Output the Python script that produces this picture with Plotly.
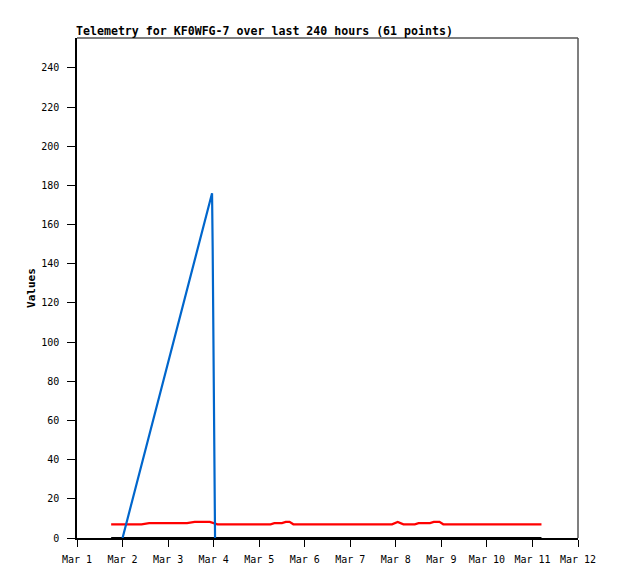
"""
Telemetry chart for KF0WFG-7, last 240 hours.
"""
import pandas as pd
import plotly.graph_objects as go

MONO = "DejaVu Sans Mono, Liberation Mono, monospace"

COLOR_BLUE = "#0066cc"
COLOR_RED = "#ff0000"
COLOR_BLACK = "#000000"
COLOR_FRAME = "#555555"

# series values (only points where the value changes)
red_times = [
    "2024-03-01 18:00", "2024-03-02 10:00", "2024-03-02 14:00", "2024-03-03 10:00",
    "2024-03-03 14:00", "2024-03-03 22:00", "2024-03-04 02:00", "2024-03-05 06:00",
    "2024-03-05 08:00", "2024-03-05 12:00", "2024-03-05 14:00", "2024-03-05 16:00",
    "2024-03-05 18:00", "2024-03-07 22:00", "2024-03-08 01:00", "2024-03-08 04:00",
    "2024-03-08 10:00", "2024-03-08 12:00", "2024-03-08 18:00", "2024-03-08 20:00",
    "2024-03-08 23:00", "2024-03-09 01:00", "2024-03-11 04:45",
]
red_values = [
    7.0, 7.0, 7.6, 7.6,
    8.2, 8.2, 7.0, 7.0,
    7.6, 7.6, 8.2, 8.2,
    7.0, 7.0, 8.2, 7.0,
    7.0, 7.6, 7.6, 8.2,
    8.2, 7.0, 7.0,
]

blue_times = [
    "2024-03-02 00:00", "2024-03-03 23:10", "2024-03-03 23:30",
    "2024-03-03 23:55", "2024-03-04 00:20", "2024-03-04 00:45",
]
blue_values = [0, 176, 147, 88, 30, 0]

black_times = ["2024-03-01 18:00", "2024-03-11 04:45"]
black_values = [0, 0]

x_tick_dates = [f"2024-03-{d:02d}" for d in range(1, 13)]
x_tick_labels = [f"Mar {d}" for d in range(1, 13)]
y_ticks = list(range(0, 241, 20))

fig = go.Figure()
for times, values, color in [
    (black_times, black_values, COLOR_BLACK),
    (red_times, red_values, COLOR_RED),
    (blue_times, blue_values, COLOR_BLUE),
]:
    fig.add_trace(
        go.Scatter(
            x=pd.to_datetime(times),
            y=values,
            mode="lines",
            line=dict(color=color, width=2.2),
            showlegend=False,
            hoverinfo="skip",
        )
    )

# grey frame on top / right, black axes on left / bottom
fig.add_shape(type="line", xref="paper", yref="paper", x0=0, x1=1, y0=1, y1=1,
              line=dict(color=COLOR_FRAME, width=1.5))
fig.add_shape(type="line", xref="paper", yref="paper", x0=1, x1=1, y0=0, y1=1,
              line=dict(color=COLOR_FRAME, width=1.5))

# page body adds 8px, so margins are 8px smaller than the on-screen offsets
fig.update_layout(
    width=618,
    height=579,
    margin=dict(l=69, r=48, t=30, b=49, autoexpand=False),
    paper_bgcolor="white",
    plot_bgcolor="white",
    font=dict(family=MONO, size=10, color="black"),
    annotations=[
        dict(
            text="<b>Telemetry for KF0WFG-7 over last 240 hours (61 points)</b>",
            xref="paper", yref="paper", x=0, y=1, xanchor="left", yanchor="bottom",
            xshift=-3, yshift=-2, showarrow=False,
            font=dict(family=MONO, size=11.6, color="black"),
        )
    ],
)
fig.update_xaxes(
    range=[pd.Timestamp("2024-03-01"), pd.Timestamp("2024-03-12")],
    tickvals=pd.to_datetime(x_tick_dates),
    ticktext=x_tick_labels,
    ticks="outside",
    ticklen=7,
    tickcolor="black",
    ticklabelstandoff=4,
    showline=True,
    linecolor="black",
    linewidth=1.5,
    showgrid=False,
    zeroline=False,
    automargin=False,
    tickfont=dict(family=MONO, size=10),
)
fig.update_yaxes(
    range=[0, 255.3],
    tickvals=y_ticks,
    ticks="outside",
    ticklen=8,
    tickcolor="black",
    ticklabelstandoff=6,
    showline=True,
    linecolor="black",
    linewidth=1.5,
    showgrid=False,
    zeroline=False,
    automargin=False,
    tickfont=dict(family=MONO, size=10),
    title=dict(text="<b>Values</b>", font=dict(family=MONO, size=11), standoff=3),
)

fig.write_html("out.html")
